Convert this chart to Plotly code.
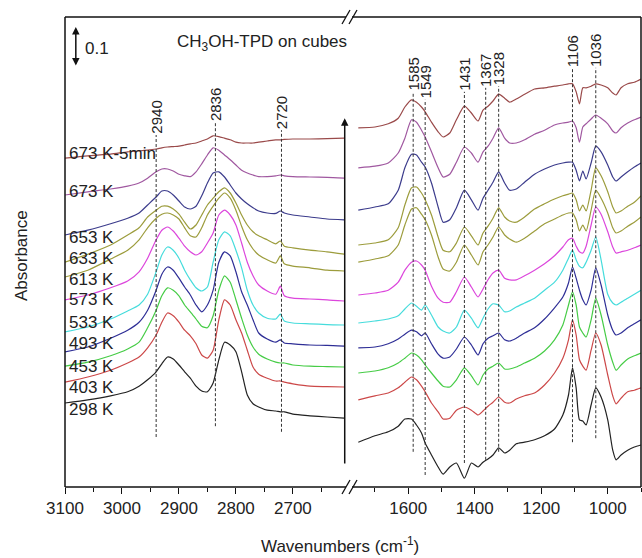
import plotly.graph_objects as go

# ---------------- data (stacked absorbance, in mAbs) ----------------
temps = ["673 K-5min", "673 K", "653 K", "633 K", "613 K", "573 K",
         "533 K", "493 K", "453 K", "403 K", "298 K"]
colors = ["#9a4a4a", "#a058a0", "#3c3c8c", "#9c9c3c", "#9c9c3c", "#dc46dc",
          "#46dcdc", "#2e2e96", "#46cc46", "#cc4848", "#222222"]

# C-H stretching region
wn_ch = [3100, 3060, 3020, 2990, 2970, 2955, 2940, 2930, 2920, 2910, 2900, 2890,
         2880, 2870, 2860, 2850, 2840, 2830, 2820, 2810, 2800, 2790, 2780, 2770,
         2760, 2745, 2730, 2722, 2715, 2700, 2670, 2640, 2610]
ch_673_5min = [822, 828, 832, 838, 840, 842, 845, 848, 850, 851, 852, 855, 858, 860, 865, 870, 878,
               876, 872, 868, 862, 860, 860, 860, 862, 865, 868, 868, 869, 870, 870, 871, 872]
ch_673 = [730, 738, 745, 752, 760, 772, 788, 795, 795, 790, 782, 778, 776, 788, 808, 830, 848,
          842, 830, 818, 805, 792, 785, 780, 776, 776, 778, 780, 778, 776, 775, 774, 772]
ch_653 = [630, 642, 658, 672, 685, 705, 725, 740, 740, 730, 715, 700, 695, 702, 728, 760, 785,
          788, 775, 755, 735, 720, 708, 698, 690, 685, 684, 690, 685, 680, 675, 670, 668]
ch_633 = [562, 582, 605, 630, 648, 675, 692, 702, 702, 695, 682, 662, 645, 655, 680, 705, 722,
          738, 748, 735, 710, 680, 655, 638, 628, 618, 608, 615, 602, 598, 592, 588, 582]
ch_613 = [525, 542, 570, 592, 618, 648, 672, 682, 685, 680, 670, 648, 628, 625, 648, 680, 702,
          722, 735, 722, 692, 652, 618, 595, 580, 568, 560, 578, 558, 552, 548, 542, 540]
ch_573 = [468, 480, 498, 515, 538, 572, 618, 642, 650, 640, 622, 602, 588, 580, 588, 610, 635,
          680, 692, 680, 655, 610, 562, 528, 505, 490, 482, 502, 478, 472, 470, 468, 465]
ch_533 = [388, 400, 420, 440, 455, 482, 538, 580, 600, 592, 572, 542, 518, 498, 490, 500, 562,
          618, 638, 628, 592, 548, 492, 455, 435, 422, 420, 432, 415, 410, 408, 406, 405]
ch_493 = [338, 350, 372, 392, 412, 442, 492, 532, 550, 542, 522, 500, 480, 455, 438, 455, 492,
          562, 588, 578, 538, 488, 455, 418, 385, 370, 362, 368, 360, 358, 355, 354, 352]
ch_453 = [302, 312, 328, 345, 362, 398, 442, 478, 498, 492, 478, 455, 438, 420, 402, 398, 428,
          492, 528, 512, 468, 422, 380, 350, 332, 320, 312, 310, 310, 305, 302, 301, 300]
ch_403 = [262, 275, 292, 310, 325, 348, 380, 412, 435, 428, 412, 392, 378, 358, 330, 322, 342,
          418, 468, 455, 418, 385, 342, 300, 282, 272, 265, 265, 262, 258, 252, 251, 250]
ch_298 = [210, 218, 228, 238, 252, 268, 288, 308, 325, 320, 305, 288, 272, 252, 240, 238, 260,
          318, 362, 355, 338, 288, 230, 208, 200, 192, 190, 188, 188, 182, 178, 175, 172]

# fingerprint region
wn_fp = [1750, 1700, 1660, 1630, 1610, 1590, 1575, 1560, 1549, 1530, 1510, 1495, 1475, 1455,
         1431, 1410, 1390, 1375, 1360, 1345, 1328, 1310, 1295, 1275, 1250, 1220, 1190, 1160,
         1135, 1118, 1106, 1095, 1085, 1075, 1065, 1050, 1036, 1020, 1000, 985, 975, 960, 940,
         920, 900]
fp_673_5min = [898, 900, 908, 922, 950, 968, 962, 950, 938, 912, 888, 875, 885, 918, 952, 935,
               915, 942, 952, 965, 982, 972, 962, 970, 982, 995, 998, 1002, 1005, 1008, 1008,
               988, 958, 998, 998, 1002, 1008, 1005, 998, 985, 980, 998, 1008, 1012, 1020]
fp_673 = [798, 802, 810, 835, 872, 918, 912, 892, 875, 838, 798, 775, 782, 812, 850, 835, 812,
          838, 852, 872, 898, 872, 860, 860, 868, 882, 892, 905, 910, 912, 915, 898, 862, 900,
          908, 920, 930, 922, 908, 890, 885, 898, 910, 918, 925]
fp_653 = [692, 700, 708, 742, 798, 832, 830, 812, 800, 760, 700, 662, 668, 698, 742, 718, 692,
          722, 742, 762, 788, 760, 742, 745, 762, 782, 795, 805, 810, 812, 812, 792, 765, 790,
          770, 810, 852, 838, 805, 775, 765, 775, 788, 800, 810]
fp_633 = [605, 610, 618, 648, 705, 748, 750, 735, 718, 680, 625, 592, 588, 610, 650, 628, 605,
          635, 652, 672, 698, 675, 665, 662, 675, 695, 708, 720, 728, 732, 735, 718, 690, 705,
          690, 742, 798, 778, 738, 700, 685, 690, 702, 712, 728]
fp_613 = [562, 570, 578, 605, 655, 695, 698, 682, 668, 630, 575, 545, 540, 562, 605, 580, 555,
          588, 605, 625, 650, 630, 620, 612, 622, 640, 658, 670, 680, 685, 685, 668, 640, 655,
          640, 692, 742, 722, 685, 648, 635, 640, 652, 662, 675]
fp_573 = [480, 485, 492, 512, 542, 562, 565, 555, 542, 502, 472, 462, 462, 488, 525, 500, 475,
          495, 518, 535, 542, 522, 518, 518, 528, 542, 558, 578, 600, 618, 622, 602, 588, 585,
          602, 655, 700, 682, 638, 600, 585, 588, 592, 598, 605]
fp_533 = [410, 415, 420, 428, 445, 460, 452, 442, 455, 430, 400, 390, 385, 400, 442, 422, 398,
          422, 445, 458, 455, 438, 440, 450, 460, 472, 492, 512, 542, 572, 592, 568, 552, 548,
          562, 592, 625, 568, 482, 460, 455, 462, 472, 482, 492]
fp_493 = [348, 350, 358, 370, 382, 392, 388, 378, 385, 358, 332, 322, 325, 345, 375, 355, 330,
          358, 372, 378, 385, 368, 365, 372, 385, 398, 420, 448, 475, 510, 550, 522, 492, 468,
          455, 492, 548, 505, 430, 392, 380, 385, 398, 408, 418]
fp_453 = [285, 290, 298, 310, 322, 335, 330, 318, 305, 285, 265, 252, 250, 268, 298, 278, 255,
          280, 295, 302, 310, 295, 295, 300, 310, 322, 340, 368, 405, 455, 488, 455, 400, 385,
          375, 418, 472, 430, 355, 312, 292, 305, 320, 328, 335]
fp_403 = [218, 228, 235, 248, 262, 275, 268, 252, 238, 210, 188, 170, 172, 192, 200, 192, 180,
          190, 202, 212, 225, 212, 210, 220, 228, 235, 255, 285, 322, 368, 418, 380, 318, 302,
          292, 342, 385, 355, 280, 228, 208, 222, 238, 242, 248]
fp_298 = [112, 128, 138, 152, 170, 170, 155, 135, 110, 80, 50, 32, 50, 60, 22, 60, 50, 62, 70,
          80, 98, 85, 92, 108, 112, 118, 128, 145, 180, 230, 298, 248, 168, 165, 155, 205, 248,
          225, 168, 92, 68, 80, 92, 100, 105]

ch_series = [ch_673_5min, ch_673, ch_653, ch_633, ch_613, ch_573, ch_533, ch_493, ch_453, ch_403, ch_298]
fp_series = [fp_673_5min, fp_673, fp_653, fp_633, fp_613, fp_573, fp_533, fp_493, fp_453, fp_403, fp_298]

# band assignments (wavenumber, dotted-line top and bottom in mAbs)
band_ch = [2940, 2836, 2720]
band_ch_top = [880, 912, 892]
band_ch_bot = [125, 152, 138]
band_fp = [1585, 1549, 1431, 1367, 1328, 1106, 1036]
band_fp_top = [988, 968, 988, 998, 1002, 1048, 1048]
band_fp_bot = [88, 30, 60, 68, 88, 112, 122]

label_y = [835, 738, 625, 572, 518, 468, 412, 360, 302, 250, 195]

# ---------------- figure ----------------
FONT = "Liberation Sans, Arial, sans-serif"
SPLIT = (347 - 65) / 576.0
fig = go.Figure()

for name, col, ys in zip(temps, colors, ch_series):
    fig.add_trace(go.Scatter(x=wn_ch, y=[v / 1000 for v in ys], mode="lines",
                             line=dict(color=col, width=1.2, shape="spline", smoothing=0.6),
                             name=name, xaxis="x", yaxis="y", showlegend=False))
for name, col, ys in zip(temps, colors, fp_series):
    fig.add_trace(go.Scatter(x=wn_fp, y=[v / 1000 for v in ys], mode="lines",
                             line=dict(color=col, width=1.2, shape="spline", smoothing=0.6),
                             name=name, xaxis="x2", yaxis="y", showlegend=False))

shapes = []
annotations = []
dash_line = dict(color="#333333", width=1, dash="3px,2px")
for w, t, b in zip(band_ch, band_ch_top, band_ch_bot):
    shapes.append(dict(type="line", xref="x", yref="y", x0=w, x1=w, y0=b / 1000, y1=t / 1000,
                       line=dash_line))
    annotations.append(dict(xref="x", yref="y", x=w, y=t / 1000, text=str(w), textangle=-90,
                            showarrow=False, xanchor="center", yanchor="bottom",
                            font=dict(size=15, color="#222"), borderpad=0))
for w, t, b in zip(band_fp, band_fp_top, band_fp_bot):
    shapes.append(dict(type="line", xref="x2", yref="y", x0=w, x1=w, y0=b / 1000, y1=t / 1000,
                       line=dash_line))
    annotations.append(dict(xref="x2", yref="y", x=w, y=t / 1000, text=str(w), textangle=-90,
                            showarrow=False, xanchor="center", yanchor="bottom",
                            font=dict(size=15, color="#222"), borderpad=0))

for name, ly in zip(temps, label_y):
    annotations.append(dict(xref="paper", yref="y", x=0.003, y=ly / 1000, text=name,
                            showarrow=False, xanchor="left", yanchor="middle",
                            font=dict(size=17, color="#222")))

def px(xp):
    return (xp - 65) / 576.0

def py(yp):
    return (487 - yp) / 470.0

frame = dict(color="#111111", width=1.5)
# frame lines with axis break
for (x0, y0, x1, y1) in [(65, 17, 346, 17), (352, 17, 641, 17),
                         (65, 487, 346, 487), (352, 487, 641, 487),
                         (65, 17, 65, 487), (641, 17, 641, 487)]:
    shapes.append(dict(type="line", xref="paper", yref="paper",
                       x0=px(x0), y0=py(y0), x1=px(x1), y1=py(y1), line=frame))
for yb in (17, 487):
    for dx in (0, 7):
        shapes.append(dict(type="line", xref="paper", yref="paper",
                           x0=px(342 + dx), y0=py(yb + 7), x1=px(350 + dx), y1=py(yb - 7),
                           line=dict(color="#111111", width=1.3)))

# temperature arrow at the edge of the left panel
annotations.append(dict(xref="x", yref="y", x=2609, y=0.922, axref="x", ayref="y",
                        ax=2609, ay=0.055, showarrow=True, arrowhead=2, arrowsize=1,
                        arrowwidth=1.5, arrowcolor="#111111", text=""))
# scale bar
annotations.append(dict(xref="x", yref="y", x=3081, y=1.150, axref="x", ayref="y",
                        ax=3081, ay=1.050, showarrow=True, arrowhead=2, startarrowhead=2,
                        arrowside="end+start", arrowsize=1, arrowwidth=1.5,
                        startarrowsize=1, arrowcolor="#111111", text=""))
annotations.append(dict(xref="paper", yref="paper", x=px(83), y=py(48), text="0.1",
                        showarrow=False, xanchor="left", yanchor="middle",
                        font=dict(size=17, color="#222")))
annotations.append(dict(xref="paper", yref="paper", x=px(262), y=py(43),
                        text="CH<sub>3</sub>OH-TPD on cubes", showarrow=False,
                        xanchor="center", yanchor="middle", font=dict(size=17, color="#222")))
annotations.append(dict(xref="paper", yref="paper", x=px(21), y=py(256), text="Absorbance",
                        textangle=-90, showarrow=False, xanchor="center", yanchor="middle",
                        font=dict(size=17, color="#222")))
annotations.append(dict(xref="paper", yref="paper", x=px(340), y=py(545),
                        text="Wavenumbers (cm<sup>-1</sup>)", showarrow=False,
                        xanchor="center", yanchor="middle", font=dict(size=17, color="#222")))

axis_common = dict(showgrid=False, zeroline=False, showline=False, ticks="outside",
                   ticklen=6, tickwidth=1.3, tickcolor="#111111",
                   tickfont=dict(size=17, color="#222"))
fig.update_layout(
    width=642, height=558,
    margin=dict(l=65, r=1, t=17, b=71),
    paper_bgcolor="white", plot_bgcolor="white",
    font=dict(family=FONT, color="#222"),
    showlegend=False,
    xaxis=dict(domain=[0, SPLIT], range=[3100, 2605], tick0=3100, dtick=100,
               minor=dict(dtick=50, ticklen=4, tickwidth=1.2, tickcolor="#111111", ticks="outside"),
               anchor="y", **axis_common),
    xaxis2=dict(domain=[SPLIT, 1], range=[1784, 900], tick0=1000, dtick=200,
                minor=dict(dtick=100, ticklen=4, tickwidth=1.2, tickcolor="#111111", ticks="outside"),
                anchor="y", **axis_common),
    yaxis=dict(range=[0, 1.175], showticklabels=False, ticks="", showgrid=False,
               zeroline=False, showline=False, anchor="x"),
    shapes=shapes,
    annotations=annotations,
)

fig.write_html("out.html", config={"displayModeBar": False},
               post_script="document.body.style.margin='0';document.body.style.padding='0';")
